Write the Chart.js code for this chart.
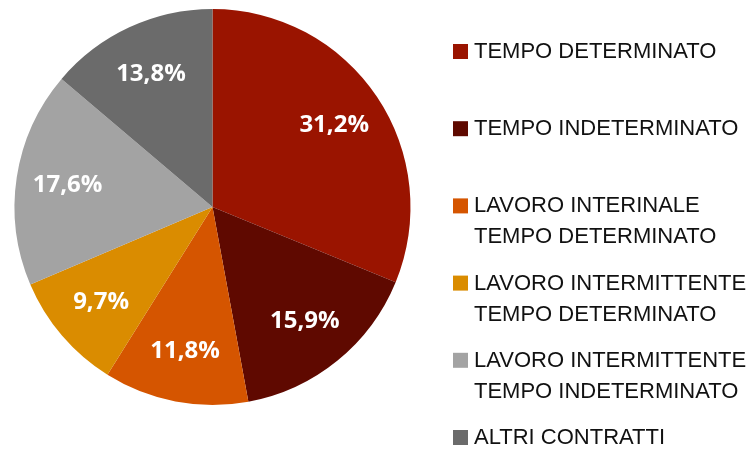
<!DOCTYPE html>
<html>
<head>
<meta charset="utf-8">
<script src="https://cdn.jsdelivr.net/npm/chart.js@4.4.0/dist/chart.umd.min.js"></script>
<style>
    html, body { margin: 0; padding: 0; background: #ffffff; }
    #wrap { position: relative; width: 749px; height: 451px; }
</style>
</head>
<body>
<div id="wrap"><canvas id="pieChart"></canvas></div>
<script>
// dati del grafico
const categories = [
    ['TEMPO DETERMINATO'],
    ['TEMPO INDETERMINATO'],
    ['LAVORO INTERINALE', 'TEMPO DETERMINATO'],
    ['LAVORO INTERMITTENTE', 'TEMPO DETERMINATO'],
    ['LAVORO INTERMITTENTE', 'TEMPO INDETERMINATO'],
    ['ALTRI CONTRATTI']
];
const values = [31.2, 15.9, 11.8, 9.7, 17.6, 13.8];
const colors = ['#9a1400', '#5f0900', '#d55500', '#da8c00', '#a3a3a3', '#6b6b6b'];

// etichette percentuali dentro le fette
const sliceLabels = {
    id: 'sliceLabels',
    afterDatasetsDraw(chart) {
        const ctx = chart.ctx;
        const meta = chart.getDatasetMeta(0);
        ctx.save();
        ctx.fillStyle = '#ffffff';
        ctx.font = 'bold 24px "Open Sans"';
        ctx.textAlign = 'center';
        ctx.textBaseline = 'middle';
        meta.data.forEach((arc, i) => {
            const mid = (arc.startAngle + arc.endAngle) / 2;
            const r = arc.outerRadius * 0.74;
            const x = arc.x + Math.cos(mid) * r;
            const y = arc.y + Math.sin(mid) * r;
            const txt = values[i].toFixed(1).replace('.', ',') + '%';
            ctx.fillText(txt, x, y);
        });
        ctx.restore();
    }
};

// legenda a destra, una voce ogni 77px
const sideLegend = {
    id: 'sideLegend',
    afterDraw(chart) {
        const ctx = chart.ctx;
        ctx.save();
        ctx.font = '22px "Liberation Sans"';
        ctx.textBaseline = 'middle';
        ctx.textAlign = 'left';
        categories.forEach((lines, i) => {
            const y0 = 52 + i * 77.2;
            ctx.fillStyle = colors[i];
            ctx.fillRect(453, y0 - 8, 15, 15);
            ctx.fillStyle = '#111111';
            lines.forEach((line, j) => {
                ctx.fillText(line, 474, y0 + j * 31);
            });
        });
        ctx.restore();
    }
};

const ctxPie = document.getElementById('pieChart').getContext('2d');
new Chart(ctxPie, {
    type: 'pie',
    data: {
        labels: categories,
        datasets: [{
            data: values,
            backgroundColor: colors,
            borderColor: '#ffffff',
            borderWidth: 0
        }]
    },
    options: {
        responsive: true,
        maintainAspectRatio: false,
        animation: false,
        layout: {
            padding: { top: 9, bottom: 46, left: 14, right: 338 }
        },
        plugins: {
            legend: { display: false },
            tooltip: { enabled: false }
        }
    },
    plugins: [sliceLabels, sideLegend]
});
</script>
</body>
</html>
